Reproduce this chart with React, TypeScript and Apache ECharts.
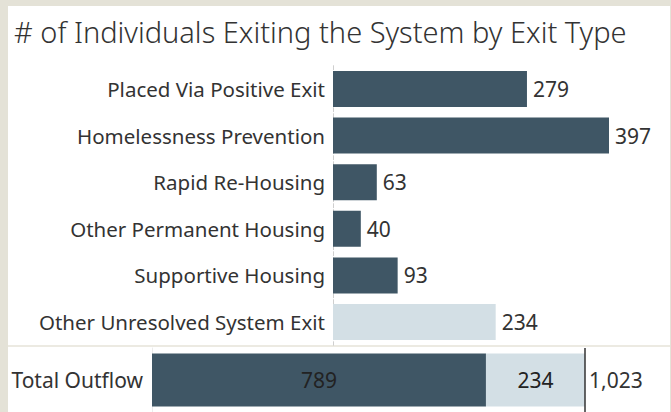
import React, { useEffect, useRef } from "react";
import * as echarts from "echarts";

const titleText = "# of Individuals Exiting the System by Exit Type";
const categories = [
  "Placed Via Positive Exit",
  "Homelessness Prevention",
  "Rapid Re-Housing",
  "Other Permanent Housing",
  "Supportive Housing",
  "Other Unresolved System Exit",
];
const values = [279, 397, 63, 40, 93, 234];
const unresolvedCategories = ["Other Unresolved System Exit"];

const totalCategory = ["Total Outflow"];
const resolvedTotal = [789];
const unresolvedTotal = [234];
const grandTotal = [1023];

const DARK = "#3f5665";
const LIGHT = "#d3dfe5";
const FONT = "Noto Sans";
const LABEL_SIZE = 20.5;
const VALUE_SIZE = 21;

export default function App() {
  const ref = useRef<HTMLDivElement>(null);
  useEffect(() => {
    const chart = echarts.init(ref.current!, undefined, { renderer: "svg" });
    const option: any = {
      animation: false,
      backgroundColor: "transparent",
      textStyle: { fontFamily: FONT },
      title: {
        text: titleText,
        left: 9,
        top: 12,
        textStyle: { fontFamily: FONT, fontSize: 29, fontWeight: 300, color: "#333" },
      },
      graphic: [
        {
          type: "line",
          shape: { x1: 8, y1: 346, x2: 670, y2: 346 },
          style: { stroke: "#e6e3d8", lineWidth: 1.5 },
          silent: true,
        },
      ],
      grid: [
        { left: 333, top: 65.7, width: 276, height: 279.6 },
        { left: 152, top: 348, width: 433, height: 68 },
      ],
      xAxis: [
        { gridIndex: 0, type: "value", min: 0, max: 397, show: false },
        { gridIndex: 1, type: "value", min: 0, max: 1023, show: false },
      ],
      yAxis: [
        {
          gridIndex: 0,
          type: "category",
          data: categories,
          inverse: true,
          axisTick: { show: false },
          axisLine: { show: true, lineStyle: { color: "#cfcfcf", type: "dashed", width: 1 } },
          axisLabel: { fontFamily: FONT, fontSize: LABEL_SIZE, color: "#333", margin: 8 },
        },
        {
          gridIndex: 1,
          type: "category",
          data: totalCategory,
          axisTick: { show: false },
          axisLine: { show: true, lineStyle: { color: "#ececec", width: 1 } },
          axisLabel: { fontFamily: FONT, fontSize: VALUE_SIZE, color: "#333", margin: 9 },
        },
      ],
      series: [
        {
          type: "bar",
          xAxisIndex: 0,
          yAxisIndex: 0,
          barWidth: 36,
          data: categories.map((c, i) => ({
            value: values[i],
            itemStyle: { color: unresolvedCategories.includes(c) ? LIGHT : DARK },
          })),
          label: {
            show: true,
            position: "right",
            distance: 6,
            fontFamily: FONT,
            fontSize: VALUE_SIZE,
            color: "#333",
          },
        },
        {
          type: "bar",
          xAxisIndex: 1,
          yAxisIndex: 1,
          stack: "total",
          barWidth: 53,
          data: resolvedTotal,
          itemStyle: { color: DARK },
          label: { show: true, position: "inside", fontFamily: FONT, fontSize: VALUE_SIZE, color: "#222" },
        },
        {
          type: "bar",
          xAxisIndex: 1,
          yAxisIndex: 1,
          stack: "total",
          barWidth: 53,
          data: unresolvedTotal,
          itemStyle: { color: LIGHT },
          label: { show: true, position: "inside", fontFamily: FONT, fontSize: VALUE_SIZE, color: "#222" },
          markLine: {
            silent: true,
            symbol: "none",
            label: { show: false },
            lineStyle: { color: "#333", type: "solid", width: 1.5 },
            data: [{ xAxis: grandTotal[0] }],
          },
        },
        {
          type: "bar",
          xAxisIndex: 1,
          yAxisIndex: 1,
          stack: "total",
          barWidth: 53,
          data: [0],
          itemStyle: { color: "transparent" },
          label: {
            show: true,
            position: "right",
            distance: 4,
            fontFamily: FONT,
            fontSize: VALUE_SIZE,
            color: "#333",
            formatter: () => grandTotal[0].toLocaleString("en-US"),
          },
        },
      ],
    };
    chart.setOption(option);
    return () => chart.dispose();
  }, []);
  return (
    <div style={{ position: "fixed", left: 0, top: 0, width: 671, height: 412, background: "#e4e2d7" }}>
      <div style={{ position: "absolute", left: 8, top: 6, width: 662, height: 406, background: "#ffffff" }} />
      <div ref={ref} style={{ position: "absolute", left: 0, top: 0, width: 671, height: 412 }} />
    </div>
  );
}
